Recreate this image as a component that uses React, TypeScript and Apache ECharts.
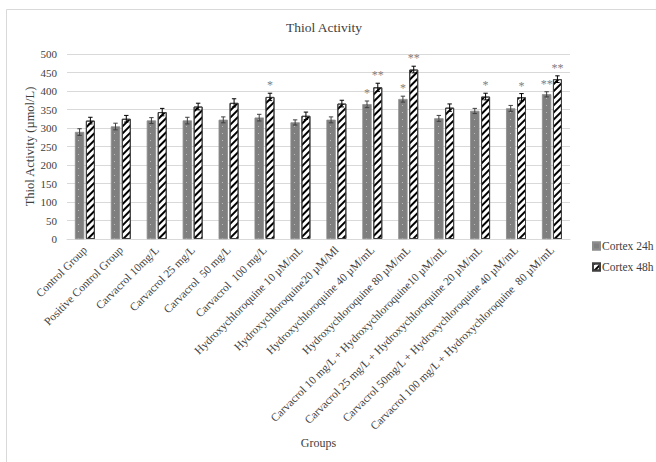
import React, { useEffect, useRef } from "react";
import * as echarts from "echarts";

const categories = [
  "Control Group",
  "Positive Control Group",
  "Carvacrol 10mg/L",
  "Carvacrol 25 mg/L",
  "Carvacrol  50 mg/L",
  "Carvacrol  100 mg/L",
  "Hydroxychloroquine 10 µM/mL",
  "Hydroxychloroquine20 µM/Ml",
  "Hydroxychloroquine 40 µM/mL",
  "Hydroxychloroquine 80 µM/mL",
  "Carvacrol 10 mg/L + Hydroxychloroquine10 µM/mL",
  "Carvacrol 25 mg/L + Hydroxychloroquine 20 µM/mL",
  "Carvacrol 50mg/L + Hydroxychloroquine 40 µM/mL",
  "Carvacrol 100 mg/L + Hydroxychloroquine  80 µM/mL",
];

const cortex24h = [289, 304, 320, 320, 322, 328, 315, 322, 364, 378, 326, 346, 353, 391];
const cortex48h = [320, 325, 343, 358, 368, 384, 333, 366, 410, 458, 355, 385, 383, 432];
const err24h = [9, 9, 8, 9, 8, 9, 7, 8, 9, 8, 8, 7, 8, 7];
const err48h = [9, 9, 10, 9, 11, 10, 10, 9, 11, 9, 10, 9, 10, 9];
const stars24h = ["", "", "", "", "", "", "", "", "*", "*", "", "", "", "**"];
const stars48h = ["", "", "", "", "", "*", "", "", "**", "**", "", "*", "*", "**"];

const yTicks = { min: 0, max: 500, interval: 50 };

const FONT = "'Liberation Serif', 'Times New Roman', serif";
const BAR_W = 9;
const BAR_GAP_PX = 1.8;

function errorSeries(values: number[], errs: number[], stars: string[], side: number, color: string) {
  return {
    type: "custom",
    name: "err" + side,
    z: 5,
    encode: { x: 0, y: 1 },
    itemStyle: { color: "#7f7f7f" },
    data: values.map((v, i) => [i, v, errs[i]]),
    renderItem: (params: any, api: any) => {
      const idx = api.value(0);
      const v = api.value(1);
      const e = api.value(2);
      const off = side * (BAR_W + BAR_GAP_PX) / 2;
      const c = api.coord([idx, v]);
      const x = c[0] + off;
      const top = api.coord([idx, v + e])[1];
      const bot = api.coord([idx, v - e])[1];
      const cap = 2.2;
      const ls = { stroke: color, lineWidth: 1 };
      const children: any[] = [
        { type: "line", shape: { x1: x, y1: top, x2: x, y2: bot }, style: ls },
        { type: "line", shape: { x1: x - cap, y1: top, x2: x + cap, y2: top }, style: ls },
        { type: "line", shape: { x1: x - cap, y1: bot, x2: x + cap, y2: bot }, style: ls },
      ];
      const s = stars[params.dataIndex];
      if (s) {
        children.push({
          type: "text",
          style: {
            text: s,
            x: x,
            y: top - 2,
            align: "center",
            verticalAlign: "bottom",
            fill: "#808080",
            font: "12px " + FONT,
          },
        });
      }
      return { type: "group", children };
    },
  };
}

export default function App() {
  const ref = useRef<HTMLDivElement>(null);
  useEffect(() => {
    if (!ref.current) return;
    const chart = echarts.init(ref.current, null, { renderer: "svg" });
    chart.setOption({
      animation: false,
      backgroundColor: "#ffffff",
      textStyle: { fontFamily: FONT },
      title: {
        text: "Thiol Activity",
        left: 319,
        top: 15,
        textAlign: "center",
        textStyle: { fontFamily: FONT, fontSize: 13.5, fontWeight: "normal", color: "#404040" },
      },
      graphic: [
        {
          type: "rect",
          shape: { x: 6.5, y: 9.5, width: 700, height: 500 },
          style: { fill: "none", stroke: "#d9d9d9", lineWidth: 1 },
          silent: true,
        },
      ],
      legend: {
        data: ["Cortex 24h", "Cortex 48h"],
        orient: "vertical",
        left: 587,
        top: 235,
        itemWidth: 7,
        itemHeight: 7,
        itemGap: 9,
        icon: "rect",
        textStyle: { fontFamily: FONT, fontSize: 11.5, color: "#404040", padding: [0, 0, 0, -3] },
      },
      grid: { left: 67, right: 86, top: 54, bottom: 223 },
      xAxis: {
        type: "category",
        data: categories,
        name: "Groups",
        nameLocation: "middle",
        nameGap: 198,
        nameMoveOverlap: false,
        nameTextStyle: { fontFamily: FONT, fontSize: 12, color: "#404040" },
        axisLine: { lineStyle: { color: "#d9d9d9" } },
        axisTick: { show: false },
        axisLabel: {
          interval: 0,
          rotate: 45,
          margin: 9,
          fontFamily: FONT,
          fontSize: 11.4,
          color: "#404040",
        },
      },
      yAxis: {
        type: "value",
        min: yTicks.min,
        max: yTicks.max,
        interval: yTicks.interval,
        name: "Thiol Activity (µmol/L)",
        nameLocation: "middle",
        nameGap: 31,
        nameMoveOverlap: false,
        nameTextStyle: { fontFamily: FONT, fontSize: 12.5, color: "#404040" },
        axisLine: { show: false },
        axisTick: { show: false },
        splitLine: { lineStyle: { color: "#d9d9d9" } },
        axisLabel: { fontFamily: FONT, fontSize: 11, color: "#404040", margin: 10 },
      },
      series: [
        {
          type: "bar",
          name: "Cortex 24h",
          data: cortex24h,
          barWidth: BAR_W,
          barGap: "20%",
          itemStyle: {
            color: "#7f7f7f",
            borderColor: "#8c8c8c",
            borderWidth: 0.5,
            decal: {
              symbol: "rect",
              symbolSize: 1,
              color: "rgba(255,255,255,0.45)",
              dashArrayX: [1, 5],
              dashArrayY: [1, 6],
            },
          },
        },
        {
          type: "bar",
          name: "Cortex 48h",
          data: cortex48h,
          barWidth: BAR_W,
          barGap: "20%",
          itemStyle: {
            color: "#ffffff",
            borderColor: "#404040",
            borderWidth: 1,
            decal: {
              symbol: "rect",
              symbolSize: 1,
              color: "#000000",
              dashArrayX: [1, 0],
              dashArrayY: [2, 3],
              rotation: -Math.PI / 4,
            },
          },
        },
        errorSeries(cortex24h, err24h, stars24h, -1, "#404040"),
        errorSeries(cortex48h, err48h, stars48h, 1, "#000000"),
      ],
    });
    return () => chart.dispose();
  }, []);
  return (
    <div
      ref={ref}
      style={{ position: "absolute", left: 0, top: 0, width: 656, height: 462 }}
    />
  );
}
